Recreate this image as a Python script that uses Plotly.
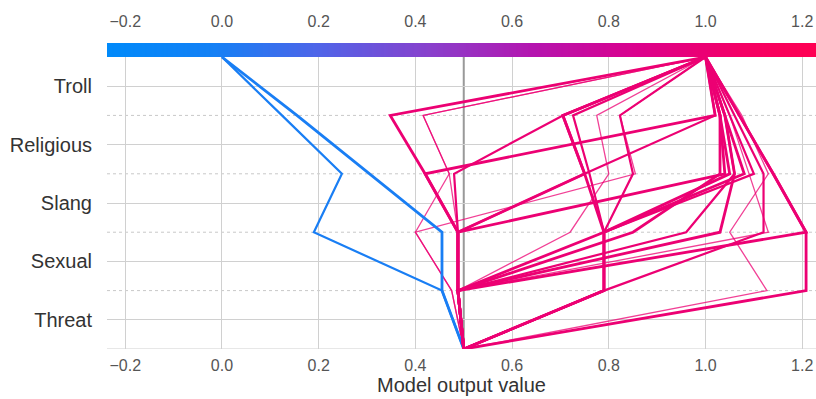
import numpy as np
import plotly.graph_objects as go

# Decision plot: model output accumulated feature by feature (bottom -> top)
features = ["Threat", "Sexual", "Slang", "Religious", "Troll"]
base_value = 0.5
x_ticks = [-0.2, 0.0, 0.2, 0.4, 0.6, 0.8, 1.0, 1.2]

# Output after each feature: [base, +Threat, +Sexual, +Slang, +Religious, +Troll]
paths = [
    [0.5, 0.455, 0.455, 0.305, 0.155, 0.0],
    [0.5, 0.455, 0.190, 0.248, 0.124, 0.0],
    [0.5, 0.488, 0.488, 0.420, 0.348, 1.0],
    [0.5, 0.488, 0.488, 0.420, 1.020, 1.0],
    [0.5, 0.475, 0.400, 0.470, 0.416, 1.0],
    [0.5, 0.475, 0.400, 0.855, 0.823, 1.0],
    [0.5, 0.488, 0.488, 0.750, 0.705, 1.0],
    [0.5, 0.488, 0.488, 1.040, 1.030, 1.0],
    [0.5, 0.790, 0.790, 0.750, 0.705, 1.0],
    [0.5, 0.790, 0.790, 0.760, 0.726, 1.0],
    [0.5, 1.208, 1.208, 1.140, 1.070, 1.0],
    [0.5, 0.488, 1.208, 1.140, 1.070, 1.0],
    [0.5, 1.127, 1.050, 1.130, 1.075, 1.0],
    [0.5, 0.488, 1.130, 1.090, 1.050, 1.0],
    [0.5, 0.488, 0.960, 1.060, 1.040, 1.0],
    [0.5, 0.790, 0.790, 1.050, 1.030, 1.0],
    [0.5, 0.790, 0.790, 1.100, 1.050, 1.0],
    [0.5, 0.488, 0.790, 1.080, 1.040, 1.0],
    [0.5, 0.488, 0.720, 0.800, 0.775, 1.0],
    [0.5, 0.790, 1.120, 1.120, 1.060, 1.0],
    [0.5, 0.488, 0.488, 0.480, 0.705, 1.0],
    [0.5, 0.488, 0.850, 1.030, 1.030, 1.0],
    [0.5, 0.488, 0.488, 0.750, 1.020, 1.0],
    [0.5, 0.488, 1.030, 1.060, 1.040, 1.0],
    [0.5, 0.790, 0.790, 0.850, 0.823, 1.0],
    [0.5, 0.488, 0.488, 0.470, 0.416, 1.0],
]
# Number of samples sharing each path
path_counts = [3, 2, 3, 3, 1, 1, 3, 3, 3, 2, 3, 3, 1, 1, 2, 3, 2, 3, 1, 2, 2, 3, 2, 3, 2, 1]

x_min, x_max = -0.2378, 1.2285

stops = [
    (0.00, (0, 138, 250)),
    (0.15, (20, 128, 245)),
    (0.30, (80, 100, 232)),
    (0.45, (135, 65, 205)),
    (0.60, (180, 20, 175)),
    (0.75, (220, 0, 140)),
    (0.90, (245, 0, 100)),
    (1.00, (255, 0, 82)),
]
colorscale = [[s, "rgb(%d,%d,%d)" % c] for s, c in stops]


def cmap(v):
    f = (v - x_min) / (x_max - x_min)
    f = min(max(f, 0), 1)
    for (s0, c0), (s1, c1) in zip(stops[:-1], stops[1:]):
        if s0 <= f <= s1:
            t = (f - s0) / (s1 - s0)
            return tuple(int(round(a + (b - a) * t)) for a, b in zip(c0, c1))
    return stops[-1][1]


levels = list(range(len(features) + 1))
fig = go.Figure()

# Draw thin (single-sample) paths first, heavy ones on top
order = sorted(range(len(paths)), key=lambda i: path_counts[i])
for i in order:
    p = paths[i]
    n = path_counts[i]
    r, g, b = cmap(p[-1])
    fig.add_trace(go.Scatter(
        x=p, y=levels, mode="lines",
        line=dict(color="rgba(%d,%d,%d,%.2f)" % (r, g, b, 0.75 if n == 1 else 1.0),
                  width=1.3 if n == 1 else (2.2 if n == 2 else 2.8)),
        hoverinfo="skip", showlegend=False,
    ))

# Colour bar strip across the top of the plot
edges = np.linspace(x_min, x_max, 301)
centres = (edges[:-1] + edges[1:]) / 2
fig.add_trace(go.Heatmap(
    z=[centres], x=edges, y=[5.0, 5.24], colorscale=colorscale,
    zmin=x_min, zmax=x_max, showscale=False, hoverinfo="skip",
))
# Invisible trace to carry the top axis
fig.add_trace(go.Scatter(x=[x_min, x_max], y=[0, 0], xaxis="x2", mode="markers",
                         marker=dict(opacity=0), hoverinfo="skip", showlegend=False))

grid = "#d0d0d0"
shapes = []
for k in range(1, len(features)):
    shapes.append(dict(type="line", xref="paper", x0=0, x1=1, y0=k, y1=k,
                       line=dict(color="#c8c8c8", width=1, dash="dot"), layer="below"))
shapes.append(dict(type="line", xref="paper", x0=0, x1=1, y0=0, y1=0,
                   line=dict(color=grid, width=1.2), layer="below"))
shapes.append(dict(type="line", x0=base_value, x1=base_value, y0=0, y1=5,
                   line=dict(color="#999999", width=2), layer="below"))

font_family = "Liberation Sans, Arial, sans-serif"
tick_text = [("\u2212%.1f" % -v) if v < 0 else "%.1f" % v for v in x_ticks]
tick_font = dict(family=font_family, size=16, color="#555555")
clear = "rgba(0,0,0,0)"

fig.update_layout(
    width=816, height=399,
    margin=dict(l=107, r=0, t=43, b=50),
    plot_bgcolor="white", paper_bgcolor="white",
    shapes=shapes,
    xaxis=dict(range=[x_min, x_max], tickvals=x_ticks, ticktext=tick_text,
               showgrid=True, gridcolor=grid, gridwidth=1, zeroline=False,
               showline=False, ticks="outside", ticklen=2, tickcolor=clear,
               tickfont=tick_font,
               title=dict(text="Model output value", standoff=3,
                          font=dict(family=font_family, size=20, color="#333333"))),
    xaxis2=dict(overlaying="x", side="top", matches="x", range=[x_min, x_max],
                tickvals=x_ticks, ticktext=tick_text, showgrid=False,
                zeroline=False, ticks="outside", ticklen=9, tickcolor=clear,
                tickfont=tick_font),
    yaxis=dict(range=[0, 5.24], tickvals=[k + 0.5 for k in range(len(features))],
               ticktext=features, showgrid=True, gridcolor=grid, gridwidth=1,
               zeroline=False, showline=False, ticks="outside", ticklen=10,
               tickcolor=clear,
               tickfont=dict(family=font_family, size=20, color="#333333")),
)

fig.write_html("out.html")
